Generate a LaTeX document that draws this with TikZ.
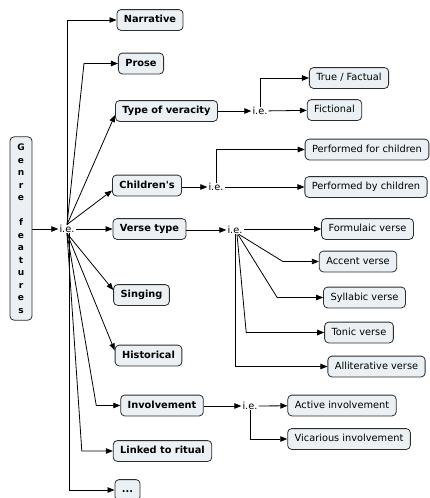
\documentclass[tikz,border=0pt]{standalone}
\usepackage{fontspec}
\setmainfont{DejaVu Sans}
\usepackage{tikz}
\usetikzlibrary{
  arrows.meta,
  calc,
  positioning,
}
\definecolor{boxfill}{RGB}{234, 240, 243}
\definecolor{boxline}{RGB}{45, 45, 45}
\tikzstyle{box} = [
  draw=boxline,
  fill=boxfill,
  rounded corners=4pt,
  line width=0.8pt,
]
\tikzstyle{feature} = [
  box,
  inner xsep=7pt,
  inner ysep=5.5pt,
  text height=7.6pt,
  text depth=2.2pt,
  font=\bfseries\fontsize{9.8}{12}\selectfont,
]
\tikzstyle{kind} = [
  feature,
  font=\fontsize{9.8}{12}\selectfont,
]
\tikzstyle{stack} = [
  box,
  align=center,
  minimum width=22pt,
  inner xsep=3pt,
  inner ysep=7pt,
  font=\bfseries\fontsize{9}{12.5}\selectfont,
]
\tikzstyle{ie} = [
  inner sep=1pt,
  text height=6.5pt,
  text depth=0pt,
  font=\fontsize{9.8}{12}\selectfont,
]
\tikzstyle{link} = [
  -{Triangle[length=7pt,width=5.5pt]},
  line width=0.8pt,
  black,
]

\begin{document}
\begin{tikzpicture}[x=1pt, y=-1pt]

        \useasboundingbox (0,0) rectangle (429,498);

        \node [stack] (genre) at (21,228.5)
              {G\\e\\n\\r\\e\\~\\f\\e\\a\\t\\u\\r\\e\\s};

        \node [ie] (ie) at (67,229) {i.e.};

        \node [feature] (narrative)   at (150,20)    {Narrative};
        \node [feature] (prose)       at (141,63.5)  {Prose};
        \node [feature] (veracity)    at (166.5,111) {Type of veracity};
        \node [feature] (children)    at (147,185.5) {Children\textquotesingle s};
        \node [feature] (verse)       at (149.5,229) {Verse type};
        \node [feature] (singing)     at (141.5,295) {Singing};
        \node [feature] (historical)  at (148.5,355.5) {Historical};
        \node [feature] (involvement) at (162,405.5) {Involvement};
        \node [feature] (ritual)      at (162.5,451) {Linked to ritual};
        \node [feature] (more)        at (127.5,490) {...};

        \node [ie] (ie2) at (260,111) {i.e.};
        \node [ie] (ie3) at (216,187) {i.e.};
        \node [ie] (ie4) at (235,230) {i.e.};
        \node [ie] (ie5) at (250,406) {i.e.};

        \node [kind] (factual)    at (349,78)    {True / Factual};
        \node [kind] (fictional)  at (334.5,110) {Fictional};

        \node [kind] (forchildren) at (367,149.5) {Performed for children};
        \node [kind] (bychildren)  at (366,187)   {Performed by children};

        \node [kind] (formulaic)    at (367.5,229)   {Formulaic verse};
        \node [kind] (accent)       at (358,261.5)   {Accent verse};
        \node [kind] (syllabic)     at (364.5,297.5) {Syllabic verse};
        \node [kind] (tonic)        at (359,332.5)   {Tonic verse};
        \node [kind] (alliterative) at (376.5,366.5) {Alliterative verse};

        \node [kind] (active)    at (342,405.5) {Active involvement};
        \node [kind] (vicarious) at (349,439)   {Vicarious involvement};

        \draw [link] (genre.east |- ie.west) -- (ie.west);

        \draw [link] (ie.north) |- (narrative.west);
        \draw [link] (ie.north) -- ([xshift=-34pt]prose.west) -- (prose.west);
        \draw [link] (ie.north) -- ([yshift=-4pt]veracity.west);
        \draw [link] (ie.north) -- ([yshift=-5pt]children.west);
        \draw [link] (ie.east) -- (verse.west);
        \draw [link] (ie.south) -- ([yshift=5pt]singing.west);
        \draw [link] (ie.south) -- ([yshift=5pt]historical.west);
        \draw [link] (ie.south) -- ([xshift=-24pt]involvement.west) -- (involvement.west);
        \draw [link] (ie.south) -- ([xshift=-31pt]ritual.west) -- (ritual.west);
        \draw [link] ([xshift=2pt]ie.south) |- (more.west);

        \draw [link] (veracity) -- (ie2);
        \draw [link] (ie2.north) |- (factual.west);
        \draw [link] (ie2) -- (fictional);

        \draw [link] (children.east |- ie3.west) -- (ie3.west);
        \draw [link] (ie3.north) |- (forchildren.west);
        \draw [link] (ie3) -- (bychildren);

        \draw [link] (verse.east |- ie4.west) -- (ie4.west);
        \draw [link] (ie4.east |- formulaic.west) -- (formulaic.west);
        \draw [link] ([xshift=4pt]ie4.south) -- ([xshift=-36pt]accent.west) -- (accent.west);
        \draw [link] ([xshift=3pt]ie4.south) -- ([xshift=-46pt]syllabic.west) -- (syllabic.west);
        \draw [link] ([xshift=2pt]ie4.south) -- ([xshift=-78pt]tonic.west) -- (tonic.west);
        \draw [link] (ie4.south) |- (alliterative.west);

        \draw [link] (involvement.east |- ie5.west) -- (ie5.west);
        \draw [link] (ie5) -- (active);
        \draw [link] (ie5.south) |- (vicarious.west);

\end{tikzpicture}
\end{document}
